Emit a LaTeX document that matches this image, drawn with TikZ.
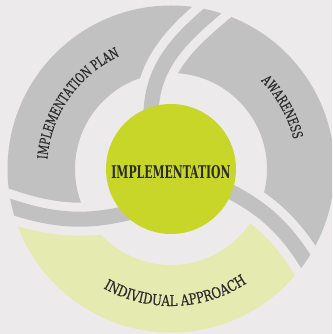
\documentclass[tikz,border=0pt]{standalone}
\usepackage{fontspec}
\usepackage{tikz}
\usetikzlibrary{decorations.text}
\newfontfamily\slabfont[FakeStretch=0.70,FakeBold=0.4]{DejaVu Serif}
\newfontfamily\slabwide[FakeStretch=0.78,FakeBold=0.4]{DejaVu Serif}
\newfontfamily\hubfont[FakeStretch=0.62]{DejaVu Serif}
\definecolor{paper}{HTML}{EDEAEB}
\definecolor{ringgray}{HTML}{C1C1C1}
\definecolor{limefill}{HTML}{E5EBB0}
\definecolor{hubfill}{HTML}{C8D629}
\definecolor{ink}{HTML}{2B2B2B}
\tikzset{
  gapcut/.style={draw=paper,line width=33pt},
  tail/.style={draw=ringgray,line width=15pt},
  arclbl/.style 2 args={decorate,decoration={text along path,text align=center,text color=ink,
    text={|#1|#2}}},
  hub/.style={circle,fill=hubfill,minimum size=130pt,inner sep=0pt},
  hubtxt/.style={text=ink,inner sep=0pt,font=\hubfont\bfseries\fontsize{17.5}{19}\selectfont}
}
\begin{document}
\begin{tikzpicture}[x=1pt,y=1pt]
  \useasboundingbox (0,0) rectangle (332,334);
  \clip (0,0) rectangle (332,334);
  \fill[paper] (0,0) rectangle (332,334);
  \begin{scope}[shift={(171,165)}]
    % the three ring pieces, each one between two tails
    \begin{scope}
      \clip (111:56) to[out=90,in=220] (71.6:180)
        arc[start angle=71.6,end angle=190.2,radius=180]
        to[out=-20,in=195] (229:56)
        arc[start angle=229,end angle=111,radius=56] -- cycle;
      \fill[ringgray,even odd rule] (0,0) circle[radius=163.5] circle[radius=96];
    \end{scope}
    \begin{scope}
      \clip (-20:56) to[out=-26,in=120] (-36.8:180)
        arc[start angle=-36.8,end angle=71.6,radius=180]
        to[out=220,in=90] (111:56)
        arc[start angle=111,end angle=-20,radius=56] -- cycle;
      \fill[ringgray,even odd rule] (0,0) circle[radius=163.5] circle[radius=96];
    \end{scope}
    \begin{scope}
      \clip (229:56) to[out=195,in=-20] (190.2:180)
        arc[start angle=190.2,end angle=323.2,radius=180]
        to[out=120,in=-26] (-20:56)
        arc[start angle=340,end angle=229,radius=56] -- cycle;
      \fill[limefill,even odd rule] (0,0) circle[radius=163.5] circle[radius=96];
    \end{scope}
    % gaps and thin tails
    \foreach \pin/\pout/\hin/\hout in {111/71.6/90/220,229/190.2/195/-20,-20/-36.8/-26/120}
      \draw[gapcut] (\pin:56) to[out=\hin,in=\hout] (\pout:180);
    \begin{scope}
      \clip (0,0) circle[radius=163.5];
      \foreach \pin/\pout/\hin/\hout in {111/71.6/90/220,229/190.2/195/-20,-20/-36.8/-26/120}
        \draw[tail] (\pin:56) to[out=\hin,in=\hout] (\pout:180);
    \end{scope}
    \node[hub] (hub) at (0,0) {};
    \node[hubtxt] (hubtitle) at ([yshift=-3.5pt]hub.center) {IMPLEMENTATION};
    \path[arclbl={\slabfont\fontsize{14}{16}\selectfont}{IMPLEMENTATION PLAN}]
      (185:124) arc[start angle=185,end angle=105,radius=124];
    \path[arclbl={\slabfont\fontsize{14}{16}\selectfont}{AWARENESS}]
      (69:126) arc[start angle=69,end angle=-11,radius=126];
    \path[arclbl={\slabwide\fontsize{15}{17}\selectfont}{INDIVIDUAL APPROACH}]
      (222:137) arc[start angle=222,end angle=322,radius=137];
  \end{scope}
\end{tikzpicture}
\end{document}
